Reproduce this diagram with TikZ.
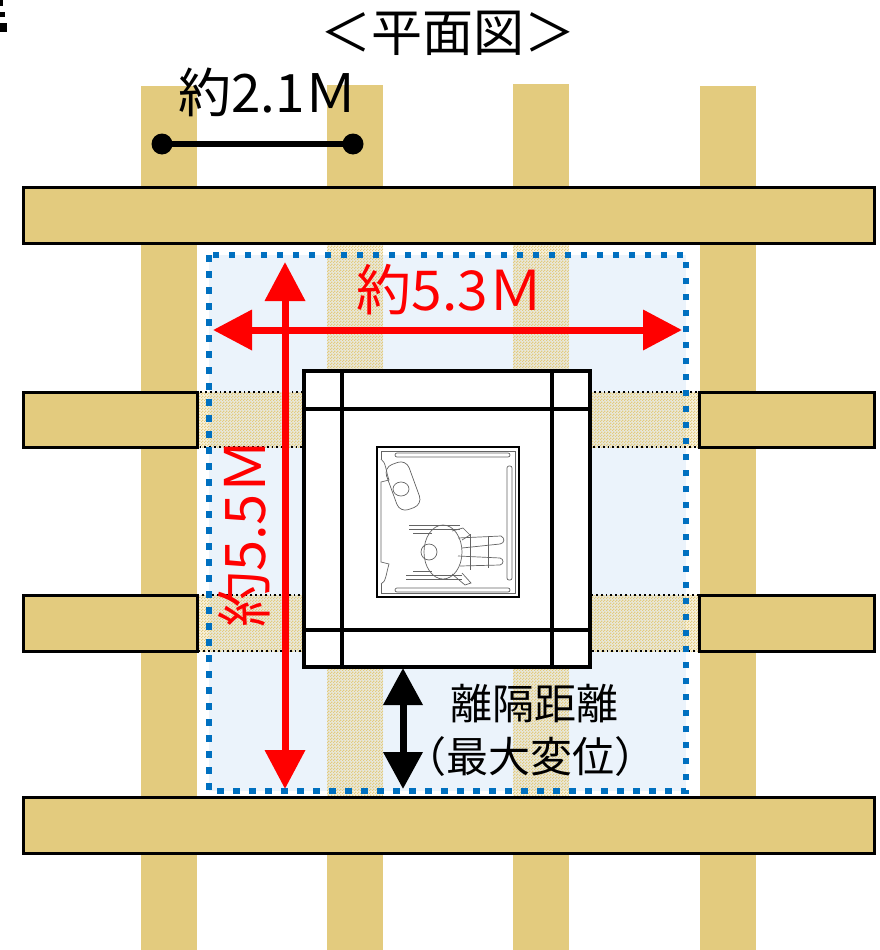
\documentclass[tikz,border=0pt]{standalone}
\usepackage{fontspec}
\newfontfamily\jpfont{Noto Sans CJK JP}
\usetikzlibrary{arrows.meta,patterns}
\definecolor{wood}{RGB}{227,203,126}
\definecolor{skyfill}{RGB}{235,243,251}
\definecolor{dotblue}{RGB}{0,112,192}
\definecolor{sketch}{RGB}{100,100,100}

% fine checker used where columns and beams pass through the clearance zone
\pgfdeclarepatternformonly{finechecker}{\pgfpointorigin}{\pgfqpoint{3pt}{3pt}}{\pgfqpoint{3pt}{3pt}}{%
  \pgfpathrectangle{\pgfpointorigin}{\pgfqpoint{1.5pt}{1.5pt}}%
  \pgfpathrectangle{\pgfqpoint{1.5pt}{1.5pt}}{\pgfqpoint{1.5pt}{1.5pt}}%
  \pgfusepath{fill}}

\begin{document}
\begin{tikzpicture}[x=1pt,y=-1pt,
  column/.style={fill=wood,draw=none},
  beam/.style={fill=wood,draw=black,line width=3pt},
  overlaptint/.style={fill=wood,fill opacity=0.25},
  overlap/.style={pattern=finechecker,pattern color=wood},
  bandline/.style={draw=black,line width=1.8pt,dash pattern=on 1.8pt off 3pt},
  zone/.style={draw=dotblue,line width=6.5pt,dash pattern=on 6.5pt off 9.5pt},
  frame/.style={draw=black,line width=4.5pt},
  redarrow/.style={draw=red,line width=7pt,{Triangle[width=39pt,length=39pt]}-{Triangle[width=39pt,length=39pt]},red},
  blackarrow/.style={draw=black,line width=7pt,{Triangle[width=38pt,length=37pt]}-{Triangle[width=38pt,length=37pt]}},
  jp/.style={font=\jpfont\fontsize{#1}{#1}\selectfont,inner sep=0pt},
  carline/.style={draw=sketch,line width=0.7pt},
]
\useasboundingbox (0,0) rectangle (879,950);

% fragment of a glyph cut off at the left edge
\fill (0,0) rectangle (3.3,6);
\fill (0,12) rectangle (4.7,17.3);
\fill (0,22.7) rectangle (6.7,31.7);

% columns
\fill[column] (141,86) rectangle (197,950);
\fill[column] (327,85) rectangle (383,243);
\fill[column] (327,797) rectangle (383,950);
\fill[column] (513,84) rectangle (569,243);
\fill[column] (513,797) rectangle (569,950);
\fill[column] (700,86) rectangle (756,950);

% clearance zone
\fill[skyfill] (209,255) rectangle (686,791);
\foreach \a/\b/\c/\d in {327/243/383/797, 513/243/569/797, 197/392/699/447, 197/595/699/651}{
  \fill[overlaptint] (\a,\b) rectangle (\c,\d);
  \fill[overlap] (\a,\b) rectangle (\c,\d);
}
\draw[bandline] (197,392) rectangle (699,447);
\draw[bandline] (197,595) rectangle (699,651);
\draw[zone] (209,255) rectangle (686,791);

% beams
\draw[beam] (23,187) rectangle (874,243);
\draw[beam] (23,797) rectangle (874,853);
\draw[beam] (23,392) rectangle (197,447);
\draw[beam] (23,595) rectangle (197,651);
\draw[beam] (699,392) rectangle (874,447);
\draw[beam] (699,595) rectangle (874,651);

% shaft frame
\node[frame,fill=white,minimum width=286pt,minimum height=296pt,inner sep=0pt] (cabin) at (447,519) {};
\draw[frame] (342,371) -- (342,667);
\draw[frame] (552,371) -- (552,667);
\draw[frame] (304,409) -- (590,409);
\draw[frame] (304,630) -- (590,630);

% car plan
\node[draw=black,line width=1.3pt,fill=white,minimum width=142pt,minimum height=150pt,inner sep=0pt] (car) at (448,522) {};
\draw[carline] (381,459) -- (381,451) -- (515,451) -- (515,593) -- (381,593) -- (381,584);
\draw[carline] (381,459) .. controls (386,462) and (386,472) .. (389,480) -- (381,482) -- (381,562) -- (389,564) .. controls (386,574) and (386,582) .. (381,584);
\draw[carline,rounded corners=2pt] (395,453) rectangle (510,457);
\draw[carline,rounded corners=2pt] (395,588) rectangle (510,592);
\draw[carline,rounded corners=2pt] (507,466) rectangle (512,580);
\draw[carline,rounded corners=9pt,rotate around={20:(403,486)}] (391,462) rectangle (415,510);
\draw[carline] (401,489) ellipse (8pt and 7pt);
% wheelchair user
\draw[carline] (409,525) -- (460,525) (409,529) -- (460,529);
\draw[carline] (406,575) -- (462,575) (406,579) -- (462,579);
\draw[carline] (413,533) -- (432,533) (413,571) -- (432,571);
\draw[carline] (458,538) -- (501,536) .. controls (505,538) and (505,543) .. (500,544) -- (462,548);
\draw[carline] (458,556) -- (500,558) .. controls (504,559) and (504,564) .. (500,565) -- (460,566);
\draw[carline] (470,534) -- (470,570) (488,536) -- (488,568);
\draw[carline] (443,552) ellipse (19pt and 27pt);
\draw[carline] (429,552) circle (8pt);
\draw[carline] (452,531) -- (463,528) -- (470,535) -- (462,540);
\draw[carline] (452,574) -- (465,585) -- (471,583) -- (462,573);

% 2.1 m span
\node[circle,fill=black,inner sep=0pt,minimum size=21pt] (p1) at (162,144) {};
\node[circle,fill=black,inner sep=0pt,minimum size=21pt] (p2) at (353,144) {};
\draw[line width=6.5pt] (p1.center) -- (p2.center);
\node[jp=53] (span21) at (268,92) {約2.1Ｍ};

% title
\node[jp=51] (title) at (448,33) {＜平面図＞};

% zone dimensions
\coordinate (vtop) at (285,262);
\coordinate (vbot) at (285,789);
\coordinate (hleft) at (213,330);
\coordinate (hright) at (682,330);
\draw[redarrow] (vtop) -- (vbot);
\draw[redarrow] (hleft) -- (hright);
\node[jp=55,text=red] (span53) at (450,290) {約5.3Ｍ};
\node[jp=56,text=red,rotate=90] (span55) at (244,533) {約5.5Ｍ};

% separation distance
\coordinate (gtop) at (403,668);
\coordinate (gbot) at (403,789);
\draw[blackarrow] (gtop) -- (gbot);
\node[jp=42] (gapname) at (534,704) {離隔距離};
\node[jp=42] (gapnote) at (530,757) {（最大変位）};
\end{tikzpicture}
\end{document}
